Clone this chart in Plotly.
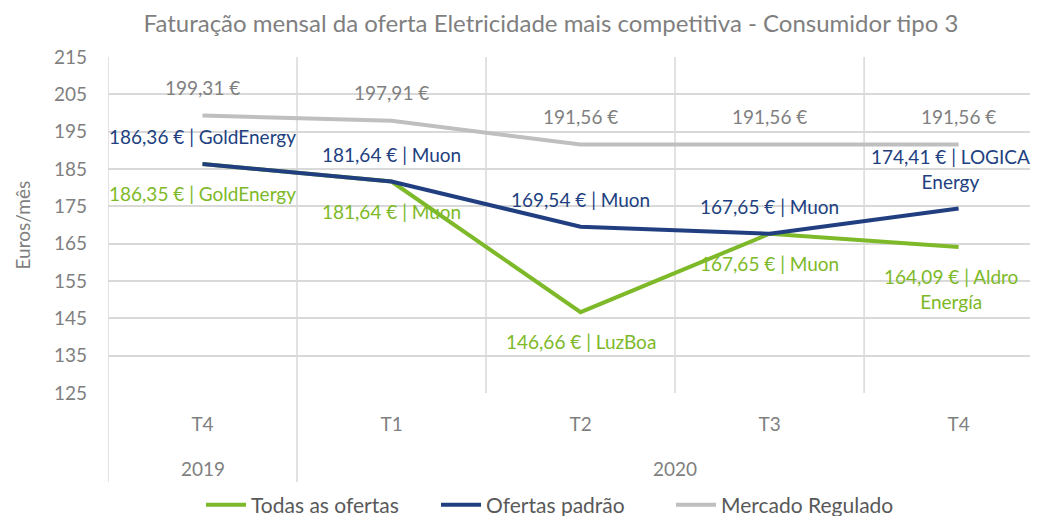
import plotly.graph_objects as go

quarters = ["T4", "T1", "T2", "T3", "T4"]
years = ["2019", "2020"]
year_spans = [(0, 0), (1, 4)]

todas = [186.35, 181.64, 146.66, 167.65, 164.09]
todas_lbl = ["186,35 € | GoldEnergy", "181,64 € | Muon", "146,66 € | LuzBoa",
             "167,65 € | Muon", "164,09 € | Aldro<br>Energía"]
padrao = [186.36, 181.64, 169.54, 167.65, 174.41]
padrao_lbl = ["186,36 € | GoldEnergy", "181,64 € | Muon", "169,54 € | Muon",
              "167,65 € | Muon", "174,41 € | LOGICA<br>Energy"]
regulado = [199.31, 197.91, 191.56, 191.56, 191.56]
regulado_lbl = ["199,31 €", "197,91 €", "191,56 €", "191,56 €", "191,56 €"]

GREEN = "#7DB928"
NAVY = "#213F80"
GRAY = "#BFBFBF"
TXT = "#7F7F7F"
FONT = "Lato"
FS = 19

x = list(range(len(quarters)))
fig = go.Figure()
fig.add_trace(go.Scatter(x=x, y=todas, name="Todas as ofertas", mode="lines",
                         line=dict(color=GREEN, width=4)))
fig.add_trace(go.Scatter(x=x, y=padrao, name="Ofertas padrão", mode="lines",
                         line=dict(color=NAVY, width=4)))
fig.add_trace(go.Scatter(x=x, y=regulado, name="Mercado Regulado", mode="lines",
                         line=dict(color=GRAY, width=4)))

ann = []
for i in x:
    xs = -8 if i == len(x) - 1 else 0
    ann.append(dict(x=i, y=regulado[i], xref="x", yref="y", text=regulado_lbl[i],
                    showarrow=False, yanchor="bottom", yshift=15,
                    font=dict(family=FONT, size=FS, color=TXT)))
    ann.append(dict(x=i, y=padrao[i], xref="x", yref="y", text=padrao_lbl[i],
                    showarrow=False, yanchor="bottom", yshift=14, xshift=xs,
                    font=dict(family=FONT, size=FS, color=NAVY)))
    ann.append(dict(x=i, y=todas[i], xref="x", yref="y", text=todas_lbl[i],
                    showarrow=False, yanchor="top", yshift=-16, xshift=xs,
                    font=dict(family=FONT, size=FS, color=GREEN)))
for yr, (a, b) in zip(years, year_spans):
    ann.append(dict(x=(a + b) / 2, y=-0.225, xref="x", yref="paper", text=yr,
                    showarrow=False, yanchor="middle",
                    font=dict(family=FONT, size=FS, color=TXT)))
ann.append(dict(x=-0.092, y=0.5, xref="paper", yref="paper", text="Euros/mês",
                textangle=-90, showarrow=False, xanchor="center", yanchor="middle",
                font=dict(family=FONT, size=FS, color=TXT)))

shapes = []
for b in [-0.5, 0.5, 1.5, 2.5, 3.5]:
    y0 = -0.265 if b in (-0.5, 0.5) else 0
    shapes.append(dict(type="line", xref="x", yref="paper", x0=b, x1=b, y0=y0, y1=1,
                       line=dict(color="#D9D9D9", width=1.5), layer="below"))

# page body adds an 8px margin; offset the figure geometry accordingly
fig.update_layout(
    width=1030, height=508,
    margin=dict(l=100, r=0, t=49, b=123),
    paper_bgcolor="white", plot_bgcolor="white",
    title=dict(text="Faturação mensal da oferta Eletricidade mais competitiva - Consumidor tipo 3",
               x=543 / 1030, xanchor="center", y=1 - 16 / 508, yanchor="middle",
               font=dict(family=FONT, size=24, color=TXT)),
    xaxis=dict(range=[-0.5, 4.42], tickmode="array", tickvals=x, ticktext=quarters,
               showgrid=False, zeroline=False, showline=False, ticks="",
               ticklabelstandoff=18, tickfont=dict(family=FONT, size=FS, color=TXT)),
    yaxis=dict(range=[125, 215], tick0=125, dtick=10, showgrid=True, gridcolor="#D9D9D9",
               gridwidth=1.5, zeroline=False, showline=False, ticklabelstandoff=20,
               tickfont=dict(family=FONT, size=FS, color=TXT)),
    legend=dict(orientation="h", x=(193 - 100) / 930, xanchor="left",
                yref="container", y=(508 - 497) / 508, yanchor="middle",
                itemwidth=40, entrywidth=180,
                font=dict(family=FONT, size=21, color="#595959")),
    annotations=ann, shapes=shapes, showlegend=True,
)
fig.write_html("out.html")
